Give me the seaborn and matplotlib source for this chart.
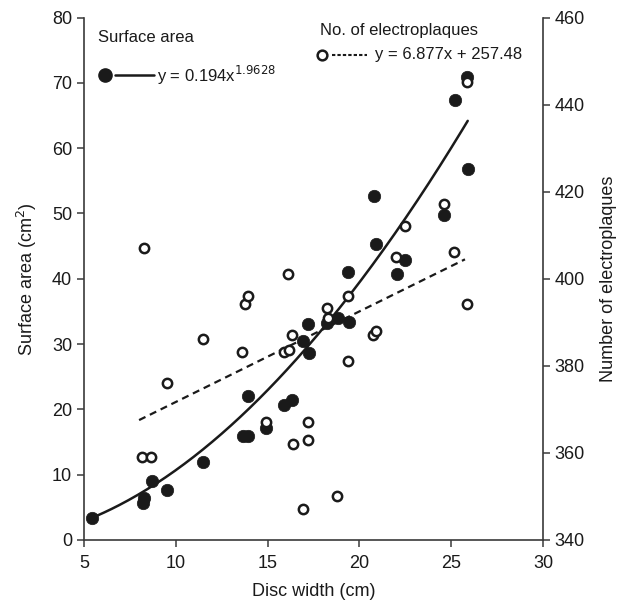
import numpy as np
import pandas as pd
import matplotlib
matplotlib.use("Agg")
import matplotlib.pyplot as plt
import seaborn as sns

# ---- data ----
area_width = [5.45, 8.29, 8.23, 8.69, 9.5, 11.5, 13.68, 13.91, 13.95, 14.91,
              15.9, 16.35, 17.22, 16.95, 17.27, 18.22, 18.82, 19.43, 19.4,
              20.9, 20.8, 22.03, 22.5, 24.63, 25.2, 25.88, 25.9]
area_value = [3.4, 6.5, 5.6, 9.1, 7.7, 12.0, 16.0, 15.9, 22.0, 17.1,
              20.7, 21.4, 33.1, 30.4, 28.6, 33.2, 34.0, 33.4, 41.1,
              45.3, 52.6, 40.8, 42.8, 49.8, 67.4, 70.9, 56.8]

plaque_width = [8.18, 8.65, 8.27, 9.5, 11.46, 13.59, 13.77, 13.91, 14.9, 15.89,
                16.18, 16.31, 16.09, 16.36, 17.18, 17.18, 16.95, 18.22, 18.27,
                19.4, 19.4, 18.76, 20.76, 20.89, 21.98, 22.48, 24.6, 25.15,
                25.88, 25.88]
plaque_count = [359.1, 359.1, 407.1, 376.1, 386.1, 383.1, 394.1, 396.1, 367.2, 383.1,
                383.6, 387.1, 401.2, 362.0, 367.0, 363.0, 347.1, 393.2, 390.9,
                396.1, 381.1, 350.1, 387.1, 388.0, 405.1, 412.1, 417.2, 406.1,
                394.1, 445.1]

# trend lines as drawn in the reference
power_a, power_b = 0.140, 1.883
power_range = [5.69, 25.9]
lin_slope, lin_icpt = 2.08, 350.9
lin_range = [8.0, 25.75]

# ---- plotting ----
sns.set_theme(style="ticks")
plt.rcParams['font.family'] = ['Liberation Sans', 'DejaVu Sans']

W, H = 622, 600
fig = plt.figure(figsize=(W / 100, H / 100), dpi=100)
ax = fig.add_axes([84 / W, 1 - 540 / H, (543 - 84) / W, (540 - 17.5) / H])
ax2 = ax.twinx()

dark = "#1a1a1a"
spine_c = "#3a3a3a"

df_a = pd.DataFrame({"w": area_width, "a": area_value})
df_p = pd.DataFrame({"w": plaque_width, "n": plaque_count})

xp = np.linspace(power_range[0], power_range[1], 200)
df_pc = pd.DataFrame({"w": xp, "a": power_a * xp ** power_b})
xl = np.array(lin_range)
df_lc = pd.DataFrame({"w": xl, "n": lin_icpt + lin_slope * xl})

sns.lineplot(data=df_pc, x="w", y="a", ax=ax, color=dark, lw=1.8, zorder=3)
sns.scatterplot(data=df_a, x="w", y="a", ax=ax, color=dark, s=80,
                edgecolor=dark, linewidth=0.5, zorder=4)

sns.lineplot(data=df_lc, x="w", y="n", ax=ax2, color=dark, lw=1.6,
             linestyle=(0, (3.2, 2.2)), zorder=3)
sns.scatterplot(data=df_p, x="w", y="n", ax=ax2, s=45, facecolor="white",
                edgecolor=dark, linewidth=1.8, zorder=5)

ax.set_xlim(5, 30)
ax.set_ylim(0, 80)
ax2.set_ylim(340, 460)
ax.set_xticks(range(5, 31, 5))
ax.set_yticks(range(0, 81, 10))
ax2.set_yticks(range(340, 461, 20))

fs = 13
ax.set_xlabel("Disc width (cm)", fontsize=fs, color=dark, labelpad=8)
ax.set_ylabel("Surface area (cm$^2$)", fontsize=fs, color=dark, labelpad=9)
ax2.set_ylabel("Number of electroplaques", fontsize=fs, color=dark, labelpad=11)

for a in (ax, ax2):
    a.tick_params(labelsize=fs, colors=dark, length=5, width=1.1, direction="out")
    for s in a.spines.values():
        s.set_color(spine_c)
        s.set_linewidth(1.2)
    a.spines["top"].set_visible(False)
ax.spines["right"].set_visible(False)
ax2.spines["left"].set_visible(False)
ax2.spines["bottom"].set_visible(False)
ax.tick_params(axis="y", colors=spine_c, labelcolor=dark)
ax2.tick_params(axis="y", colors=spine_c, labelcolor=dark)
ax.tick_params(axis="x", colors=spine_c, labelcolor=dark, pad=6)

# ---- legend-like annotations (figure pixel positions) ----
def fx(px):
    return px / W

def fy(py):
    return 1 - py / H

lfs = 12
fig.text(fx(98), fy(38), "Surface area", fontsize=lfs, color=dark, va="center", ha="left")
fig.add_artist(plt.Line2D([fx(105)], [fy(75)], marker="o", ms=9.5, color=dark,
                          transform=fig.transFigure))
fig.add_artist(plt.Line2D([fx(115), fx(154)], [fy(75), fy(75)], lw=1.8, color=dark,
                          transform=fig.transFigure))
fig.text(fx(157), fy(75), "y = 0.194x$^{1.9628}$", fontsize=lfs, color=dark,
         va="center", ha="left")

fig.text(fx(320), fy(30), "No. of electroplaques", fontsize=lfs, color=dark,
         va="center", ha="left")
fig.add_artist(plt.Line2D([fx(322)], [fy(55)], marker="o", ms=7, mfc="white",
                          mec=dark, mew=1.8, transform=fig.transFigure))
fig.add_artist(plt.Line2D([fx(332), fx(367)], [fy(55), fy(55)], lw=1.5, color=dark,
                          linestyle=(0, (1.6, 1.0)), transform=fig.transFigure))
fig.text(fx(375), fy(55), "y = 6.877x + 257.48", fontsize=lfs, color=dark,
         va="center", ha="left")

fig.savefig("out.png", dpi=100)
